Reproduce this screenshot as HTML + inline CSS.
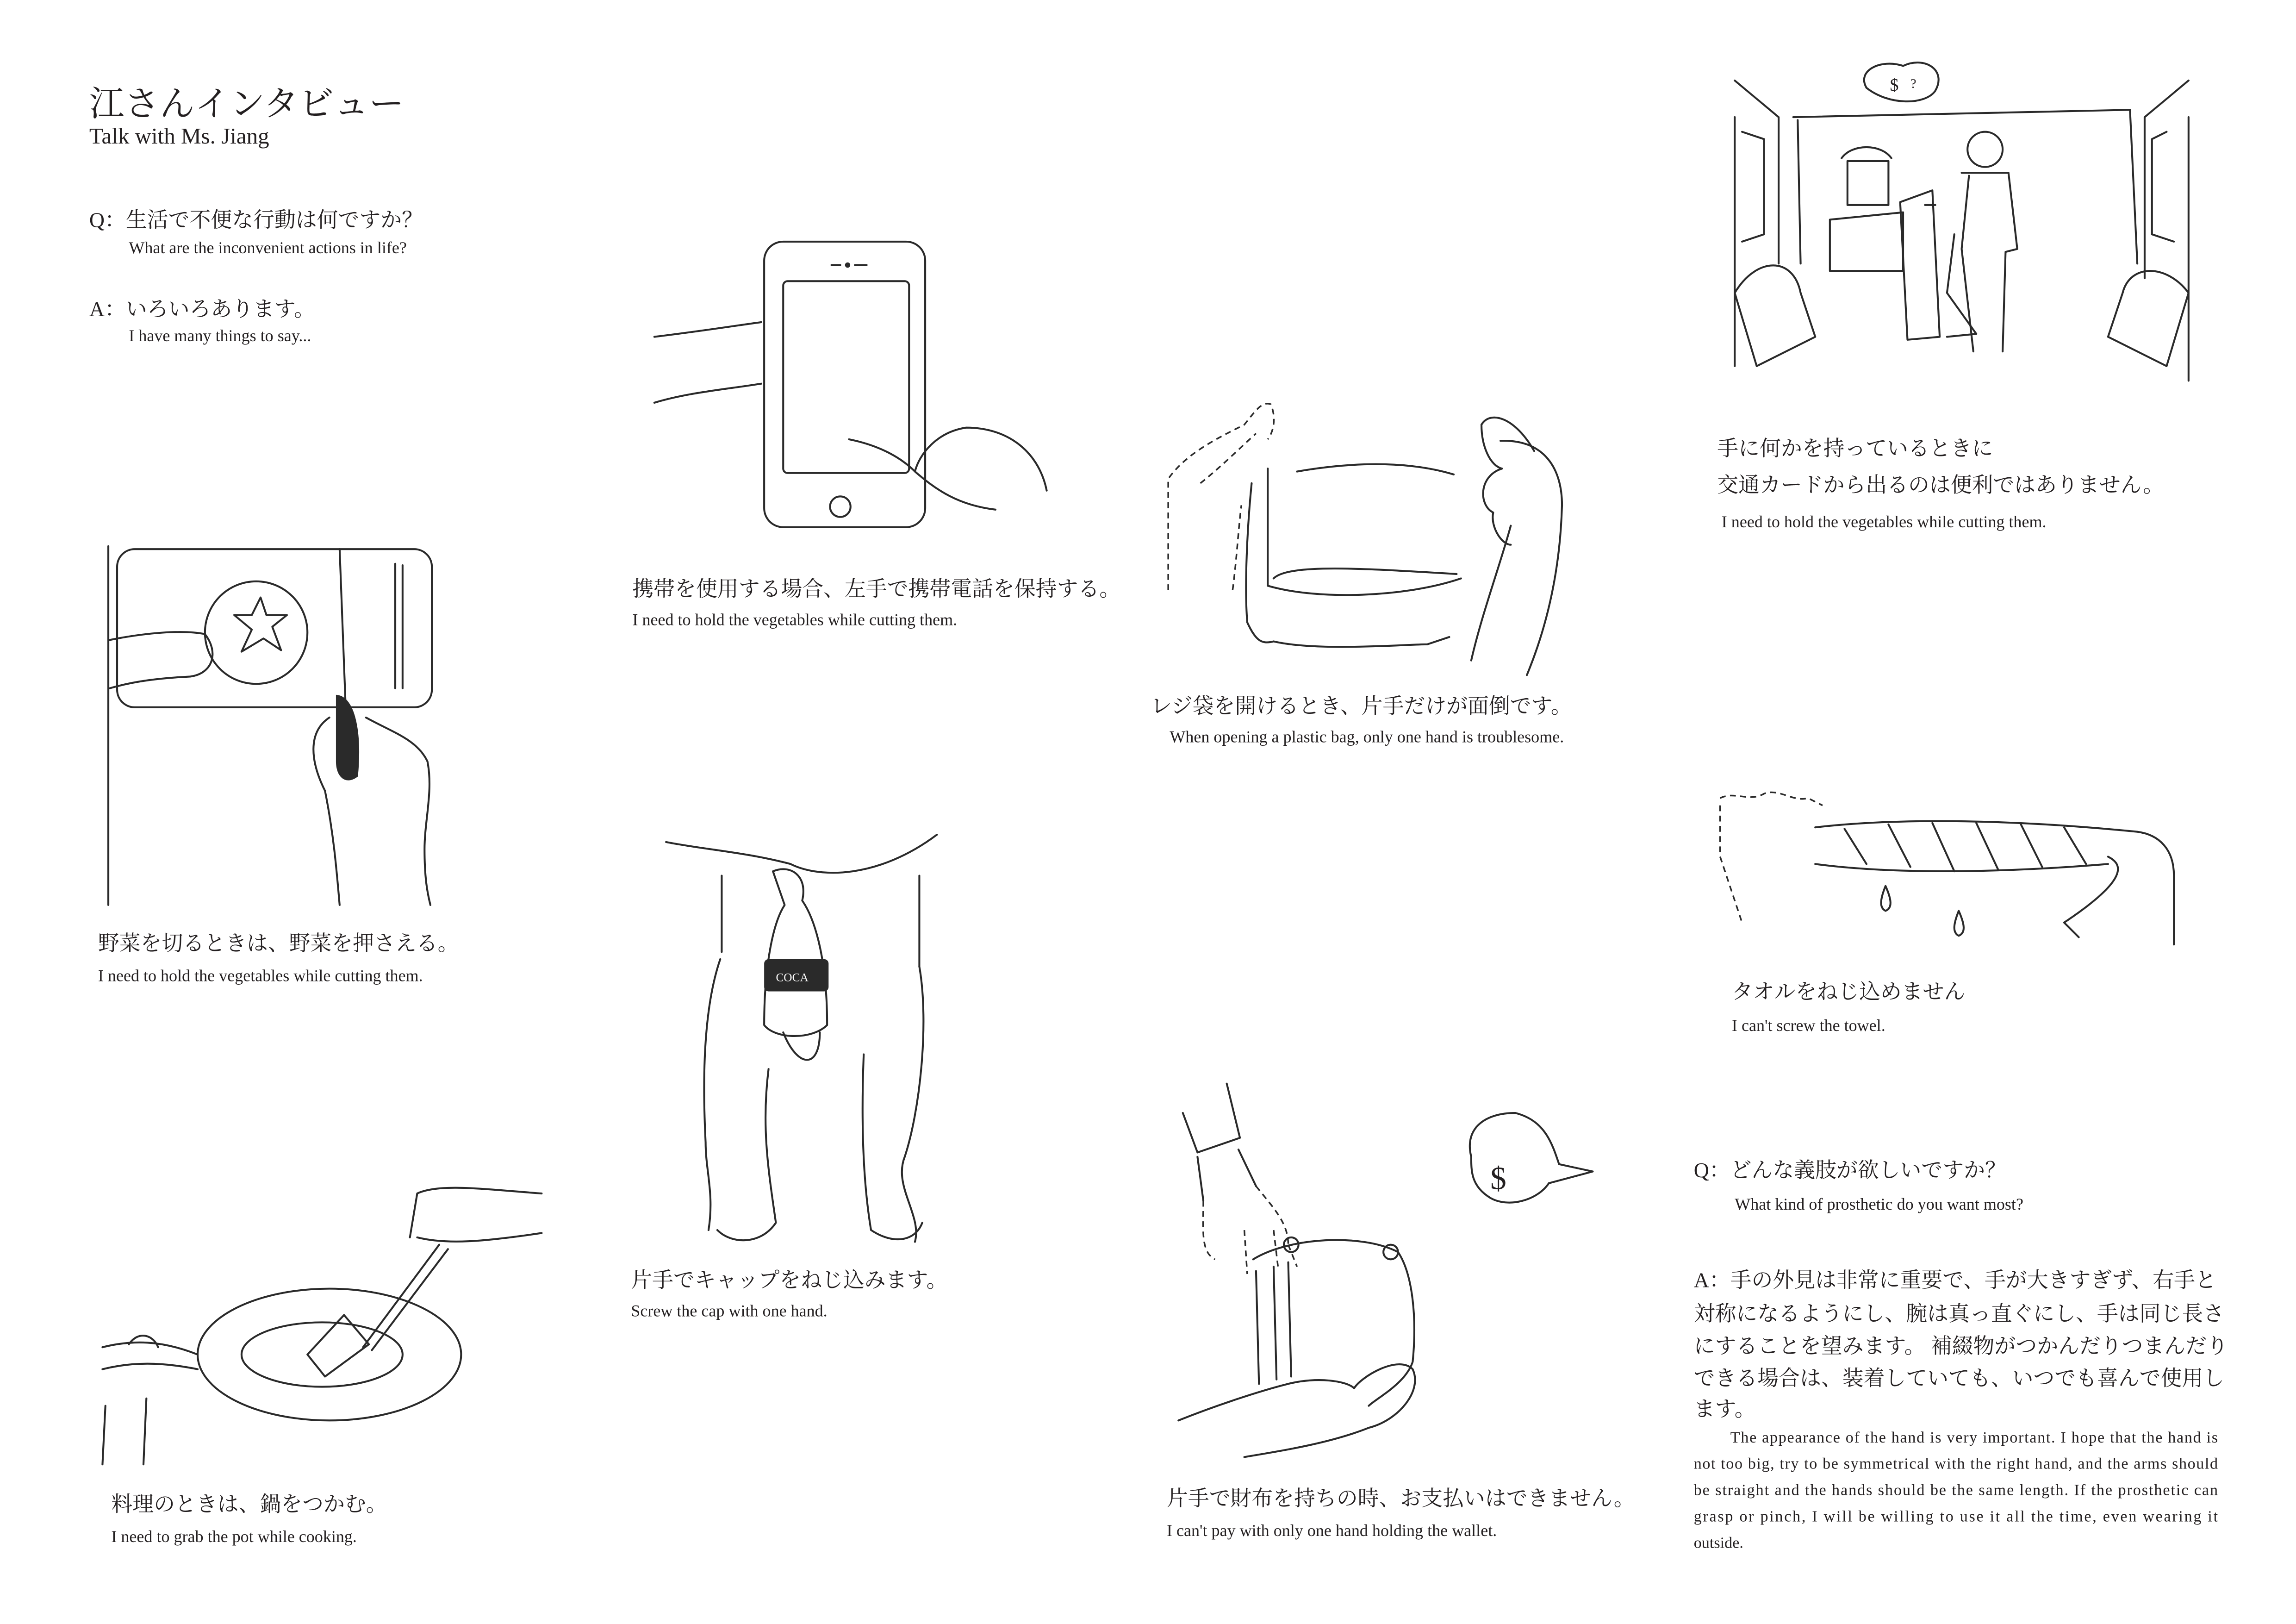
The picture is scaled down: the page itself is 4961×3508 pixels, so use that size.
<!DOCTYPE html>
<html><head><meta charset="utf-8"><style>
html,body{margin:0;padding:0;background:#fff;}
svg{display:block}
text{font-family:"Liberation Serif","Noto Serif CJK SC",serif;fill:#231f20}
.jp{font-size:14.5px}
.en{font-size:11.4px}
.s{fill:none;stroke:#2a2a2a;stroke-width:1.3;stroke-linecap:round;stroke-linejoin:round}
.d{fill:none;stroke:#2a2a2a;stroke-width:1.1;stroke-dasharray:4 3}
</style></head><body>
<svg width="4961" height="3508" viewBox="0 0 1568.4 1109" preserveAspectRatio="none" xmlns="http://www.w3.org/2000/svg">
<rect width="1568.4" height="1109" fill="#fff"/>
<!-- header -->
<text x="61" y="79" style="font-size:24px">江さんインタビュー</text>
<text x="61" y="98" style="font-size:15.5px">Talk with Ms. Jiang</text>
<text x="61" y="155" class="jp">Q：生活で不便な行動は何ですか？</text>
<text x="88" y="173" class="en">What are the inconvenient actions in life?</text>
<text x="61" y="216" class="jp">A：いろいろあります。</text>
<text x="88" y="233" class="en">I have many things to say...</text>

<!-- phone -->
<rect x="522" y="165" width="110" height="195" rx="13" class="s"/>
<rect x="535" y="192" width="86" height="131" rx="3" class="s"/>
<circle cx="574" cy="346" r="7" class="s"/>
<circle cx="579" cy="181" r="1.8" fill="#2a2a2a"/>
<line x1="568" y1="181" x2="574" y2="181" class="s"/><line x1="584" y1="181" x2="592" y2="181" class="s"/>
<path d="M447 230 C480 226 505 222 520 220 M447 275 C470 268 495 266 520 262" class="s"/>
<path d="M580 300 C600 304 615 312 625 322 C628 310 640 295 660 292 C690 292 710 310 715 335 M625 322 C640 335 655 345 680 348" class="s"/>
<text x="432" y="407" class="jp">携帯を使用する場合、左手で携帯電話を保持する。</text>
<text x="432" y="427" class="en">I need to hold the vegetables while cutting them.</text>

<!-- cutting board -->
<path d="M74 373 L74 618" class="s"/>
<rect x="80" y="375" width="215" height="108" rx="12" class="s"/>
<circle cx="175" cy="432" r="35" class="s"/>
<path d="M160 420 L172 430 L165 445 L180 436 L192 444 L186 428 L196 420 L182 420 L178 408 L172 420 Z" class="s"/>
<path d="M270 385 L270 470 M275 386 L275 470" class="s"/>
<path d="M232 375 L236 480" class="s"/>
<path d="M75 437 C100 432 125 430 140 433 C150 446 145 460 130 462 C110 463 92 465 75 470" class="s"/>
<path d="M230 475 C242 476 247 500 244 530 C236 536 230 530 230 520 Z" fill="#2a2a2a" stroke="#2a2a2a" stroke-width="1"/>
<path d="M225 490 C210 500 212 520 222 540 C228 570 230 595 232 618 M250 490 C268 500 285 505 292 520 C296 540 290 560 290 580 C290 600 292 610 294 618" class="s"/>
<text x="67" y="649" class="jp">野菜を切るときは、野菜を押さえる。</text>
<text x="67" y="670" class="en">I need to hold the vegetables while cutting them.</text>

<!-- bag -->
<path d="M798 403 L798 327 C810 310 830 300 850 290 C858 280 862 274 868 276 C872 285 870 295 866 300 M842 403 C845 380 846 360 848 345 M820 330 C835 318 848 305 858 296" class="d"/>
<path d="M886 322 C920 316 960 314 993 324 M866 400 C900 410 960 408 998 395 M870 395 C880 385 930 388 995 392 M855 330 C852 360 850 400 852 425 C858 438 862 440 870 438 C900 445 960 440 975 440 L990 435 M866 320 L866 400" class="s"/>
<path d="M1025 301 C1055 300 1067 320 1067 345 C1066 380 1060 420 1043 461 M1005 451 C1012 420 1025 385 1032 359 M1012 290 C1018 280 1035 285 1048 308 M1012 290 C1012 305 1018 318 1026 320 C1010 325 1010 345 1020 350 C1018 360 1026 372 1032 372" class="s"/>
<text x="786" y="487" class="jp">レジ袋を開けるとき、片手だけが面倒です。</text>
<text x="799" y="507" class="en">When opening a plastic bag, only one hand is troublesome.</text>

<!-- store -->
<path d="M1185 55 L1215 80 L1215 180 M1185 80 L1185 250 M1495 55 L1465 80 L1465 190 M1495 80 L1495 260 M1225 80 L1455 75 L1460 180 M1228 82 L1230 180" class="s"/>
<path d="M1190 90 L1205 95 L1205 160 L1190 165 M1480 90 L1470 95 L1470 160 L1485 165" class="s"/>
<path d="M1185 200 C1200 175 1225 175 1230 200 L1240 230 L1200 250 Z M1495 200 C1480 180 1455 180 1450 200 L1440 230 L1480 250 Z" class="s"/>
<path d="M1250 150 L1300 145 L1300 185 L1250 185 Z M1262 110 L1290 110 L1290 140 L1262 140 Z M1258 108 C1265 98 1285 98 1292 108" class="s"/>
<path d="M1298 138 L1320 130 L1325 230 L1303 232 Z M1315 140 L1322 140" class="s"/>
<circle cx="1356" cy="102" r="12" class="s"/>
<path d="M1340 118 L1372 118 L1378 170 L1370 172 L1368 240 M1345 120 L1340 170 L1348 240 M1335 160 L1330 200 L1350 228 L1330 230" class="s"/>
<path d="M1275 60 C1268 48 1285 40 1300 45 C1315 38 1330 48 1322 62 C1315 72 1290 72 1275 60 Z" class="s"/>
<text x="1291" y="62" style="font-size:12px">$</text><text x="1305" y="60" style="font-size:9px">?</text>
<text x="1173" y="311" class="jp">手に何かを持っているときに</text>
<text x="1173" y="336" class="jp">交通カードから出るのは便利ではありません。</text>
<text x="1176" y="360" class="en">I need to hold the vegetables while cutting them.</text>

<!-- towel -->
<path d="M1175 545 C1185 540 1195 548 1205 542 C1215 538 1225 548 1235 545 L1245 550 M1175 550 L1175 585 L1190 630" class="d"/>
<path d="M1240 565 C1300 558 1380 560 1460 568 C1475 570 1485 580 1485 598 L1485 645 M1240 590 C1300 598 1380 595 1440 590 M1440 585 C1450 590 1455 600 1410 630 L1420 640" class="s"/>
<path d="M1260 566 L1275 590 M1290 563 L1305 592 M1320 562 L1335 595 M1350 562 L1365 594 M1380 562 L1395 592 M1410 565 L1425 590" class="s"/>
<path d="M1288 605 C1284 615 1284 620 1288 622 C1293 620 1292 614 1288 605 Z M1338 622 C1334 632 1334 637 1338 639 C1343 637 1342 631 1338 622 Z" class="s"/>
<text x="1183" y="682" class="jp">タオルをねじ込めません</text>
<text x="1183" y="704" class="en">I can't screw the towel.</text>

<!-- cola -->
<path d="M455 575 C480 580 510 582 540 590 C560 600 600 600 640 570 M493 598 L493 650 M628 598 L628 660" class="s"/>
<path d="M528 595 C540 590 552 598 548 615 C555 625 565 650 565 700 C555 710 530 710 522 700 C522 660 528 630 536 618 Z" class="s"/>
<rect x="522" y="655" width="44" height="22" rx="3" fill="#2a2a2a"/>
<text x="530" y="670" style="font-size:8px;fill:#fff">COCA</text>
<path d="M492 655 C480 690 480 740 482 780 C482 800 488 815 484 840 M628 660 C635 700 628 760 618 790 C610 810 630 830 625 848 M535 705 C545 730 560 730 560 705 M490 840 C500 850 520 850 530 835 C525 800 520 770 525 730 M590 720 C588 770 590 810 595 840 C610 850 625 848 630 835" class="s"/>
<text x="431" y="879" class="jp">片手でキャップをねじ込みます。</text>
<text x="431" y="899" class="en">Screw the cap with one hand.</text>

<!-- pan -->
<ellipse cx="225" cy="925" rx="90" ry="45" class="s"/>
<ellipse cx="220" cy="925" rx="55" ry="22" class="s"/>
<path d="M300 850 L248 920 M306 853 L254 922 M210 925 L235 898 L252 918 L222 940 Z" class="s"/>
<path d="M285 815 C300 808 330 812 370 815 M285 845 C305 850 330 848 370 842 M285 815 L280 845" class="s"/>
<path d="M70 920 C90 915 110 915 135 925 M70 935 C90 930 110 930 135 935 M88 918 C95 908 105 912 108 920" class="s"/>
<path d="M72 960 L70 1000 M100 955 L98 1000" class="s"/>
<text x="76" y="1032" class="jp">料理のときは、鍋をつかむ。</text>
<text x="76" y="1053" class="en">I need to grab the pot while cooking.</text>

<!-- wallet -->
<path d="M808 760 L818 787 L847 777 L838 740 M846 785 L858 810 M818 790 L822 820" class="s"/>
<path d="M822 820 C822 840 820 855 830 860 M858 810 C870 825 880 835 880 850 M850 840 L852 870 M870 840 L873 865 M880 850 L886 865" class="d"/>
<path d="M856 860 C880 845 930 842 955 855 C965 870 968 900 965 930 C960 945 940 955 935 960 M858 868 L860 945 M870 865 L872 942 M880 862 L882 940" class="s"/>
<circle cx="882" cy="850" r="5" class="s"/><circle cx="950" cy="855" r="5" class="s"/>
<path d="M805 970 C830 960 860 950 880 945 C900 940 920 943 925 948 C930 940 955 925 965 935 C972 950 955 970 935 975 C910 985 880 990 850 995" class="s"/>
<path d="M1005 790 C1000 770 1015 760 1035 760 C1055 765 1060 780 1065 795 L1088 800 L1058 808 C1050 820 1030 825 1018 818 C1005 810 1005 800 1005 790 Z" class="s"/>
<text x="1018" y="812" style="font-size:22px">$</text>
<text x="797" y="1028" class="jp">片手で財布を持ちの時、お支払いはできません。</text>
<text x="797" y="1049" class="en">I can't pay with only one hand holding the wallet.</text>

<!-- Q2 -->
<text x="1157" y="804" class="jp">Q：どんな義肢が欲しいですか？</text>
<text x="1185" y="826" class="en">What kind of prosthetic do you want most?</text>
<text x="1157" y="879" class="jp">A：手の外見は非常に重要で、手が大きすぎず、右手と</text>
<text x="1157" y="902" class="jp">対称になるようにし、腕は真っ直ぐにし、手は同じ長さ</text>
<text x="1157" y="924" class="jp">にすることを望みます。 補綴物がつかんだりつまんだり</text>
<text x="1157" y="946" class="jp">できる場合は、装着していても、いつでも喜んで使用し</text>
<text x="1157" y="967" class="jp">ます。</text>
<g style="font-size:10.8px">
<text x="1182" y="985" textLength="333" lengthAdjust="spacing">The appearance of the hand is very important. I hope that the hand is</text>
<text x="1157" y="1003" textLength="358" lengthAdjust="spacing">not too big, try to be symmetrical with the right hand, and the arms should</text>
<text x="1157" y="1021" textLength="358" lengthAdjust="spacing">be straight and the hands should be the same length. If the prosthetic can</text>
<text x="1157" y="1039" textLength="358" lengthAdjust="spacing">grasp or pinch, I will be willing to use it all the time, even wearing it</text>
<text x="1157" y="1057">outside.</text>
</g>
</svg>
</body></html>
